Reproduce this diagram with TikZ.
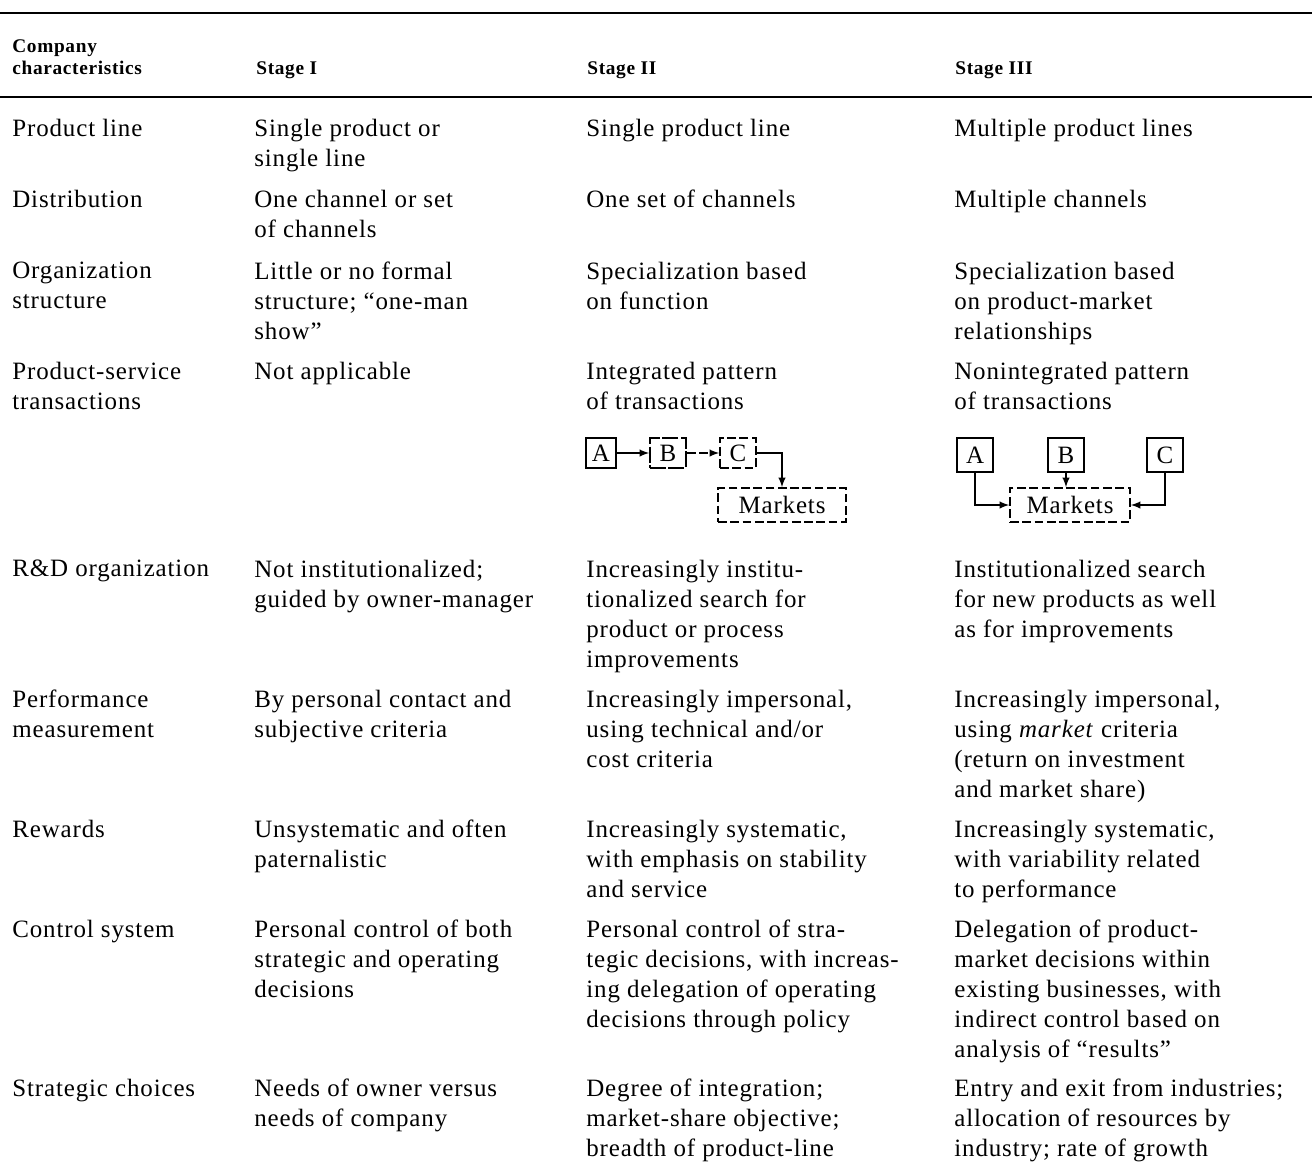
\documentclass[tikz,border=0pt]{standalone}
\usepackage{fontspec}
\setmainfont[LetterSpace=3.5]{Liberation Serif}

\tikzset{
  cell/.style={anchor=north west, inner sep=0pt, align=left, font=\fontsize{14.2}{17.07}\selectfont},
  head/.style={anchor=north west, inner sep=0pt, align=left, font=\fontsize{11}{12.5}\selectfont\bfseries},
  box/.style={draw, line width=0.9pt, inner sep=0pt, minimum width=0.6cm, minimum height=0.6cm, font=\fontsize{14.2}{17}\selectfont},
  dbox/.style={box, dash pattern=on 5pt off 2pt},
  flow/.style={line width=0.9pt, -latex},
}

\begin{document}
\begin{tikzpicture}[x=0.02cm, y=-0.02cm]
		%%%%% FRAME %%%%%
		\useasboundingbox (0,0) rectangle (1312,1171);
		\draw[line width=1.4pt] (0,13) -- (1312,13);
		\draw[line width=1.4pt] (0,97) -- (1312,97);
		
		%%%%% HEADER %%%%%
		\node[head] (hchar) at (12,39) {Company\\characteristics};
		\node[head] (hone) at (256,61) {Stage I};
		\node[head] (htwo) at (587,61) {Stage II};
		\node[head] (hthree) at (955,61) {Stage III};
		
		%%%%% ROWS %%%%%
		\node[cell] (pl) at (12,119) {Product line};
		\node[cell] (pl1) at (254,119) {Single product or\\single line};
		\node[cell] (pl2) at (586,119) {Single product line};
		\node[cell] (pl3) at (954,119) {Multiple product lines};
		
		\node[cell] (di) at (12,190) {Distribution};
		\node[cell] (di1) at (254,190) {One channel or set\\of channels};
		\node[cell] (di2) at (586,190) {One set of channels};
		\node[cell] (di3) at (954,190) {Multiple channels};
		
		\node[cell] (os) at (12,262) {Organization\\structure};
		\node[cell] (os1) at (254,262) {Little or no formal\\structure; “one-man\\show”};
		\node[cell] (os2) at (586,262) {Specialization based\\on function};
		\node[cell] (os3) at (954,262) {Specialization based\\on product-market\\relationships};
		
		\node[cell] (ps) at (12,362) {Product-service\\transactions};
		\node[cell] (ps1) at (254,362) {Not applicable};
		\node[cell] (ps2) at (586,362) {Integrated pattern\\of transactions};
		\node[cell] (ps3) at (954,362) {Nonintegrated pattern\\of transactions};
		
		% integrated pattern
		\node[box] (a2) at (601,453) {A};
		\node[box, minimum width=0.72cm, dash pattern=on 9pt off 1.5pt] (b2) at (668,453) {B};
		\node[dbox, minimum width=0.72cm] (c2) at (738,453) {C};
		\node[dbox, minimum width=2.56cm, minimum height=0.68cm] (m2) at (782,505) {Markets};
		\draw[flow] (a2) -- (b2);
		\draw[flow, dash pattern=on 5pt off 2pt] (b2) -- (c2);
		\draw[flow] (c2.east) -| (m2.north);
		
		% nonintegrated pattern
		\node[box, minimum width=0.72cm, minimum height=0.68cm] (a3) at (975,455) {A};
		\node[box, minimum width=0.72cm, minimum height=0.68cm] (b3) at (1066,455) {B};
		\node[box, minimum width=0.72cm, minimum height=0.68cm] (c3) at (1165,455) {C};
		\node[dbox, minimum width=2.4cm, minimum height=0.68cm] (m3) at (1070,505) {Markets};
		\draw[flow] (a3.south) |- (m3.west);
		\draw[flow] (b3.south) -- (b3.south |- m3.north);
		\draw[flow] (c3.south) |- (m3.east);
		
		\node[cell] (rd) at (12,560) {R\&D organization};
		\node[cell] (rd1) at (254,560) {Not institutionalized;\\guided by owner-manager};
		\node[cell] (rd2) at (586,560) {Increasingly institu-\\tionalized search for\\product or process\\improvements};
		\node[cell] (rd3) at (954,560) {Institutionalized search\\for new products as well\\as for improvements};
		
		\node[cell] (pm) at (12,690) {Performance\\measurement};
		\node[cell] (pm1) at (254,690) {By personal contact and\\subjective criteria};
		\node[cell] (pm2) at (586,690) {Increasingly impersonal,\\using technical and/or\\cost criteria};
		\node[cell] (pm3) at (954,690) {Increasingly impersonal,\\using \textit{market} criteria\\(return on investment\\and market share)};
		
		\node[cell] (rw) at (12,820) {Rewards};
		\node[cell] (rw1) at (254,820) {Unsystematic and often\\paternalistic};
		\node[cell] (rw2) at (586,820) {Increasingly systematic,\\with emphasis on stability\\and service};
		\node[cell] (rw3) at (954,820) {Increasingly systematic,\\with variability related\\to performance};
		
		\node[cell] (cs) at (12,920) {Control system};
		\node[cell] (cs1) at (254,920) {Personal control of both\\strategic and operating\\decisions};
		\node[cell] (cs2) at (586,920) {Personal control of stra-\\tegic decisions, with increas-\\ing delegation of operating\\decisions through policy};
		\node[cell] (cs3) at (954,920) {Delegation of product-\\market decisions within\\existing businesses, with\\indirect control based on\\analysis of “results”};
		
		\node[cell] (sc) at (12,1079) {Strategic choices};
		\node[cell] (sc1) at (254,1079) {Needs of owner versus\\needs of company};
		\node[cell] (sc2) at (586,1079) {Degree of integration;\\market-share objective;\\breadth of product-line};
		\node[cell] (sc3) at (954,1079) {Entry and exit from industries;\\allocation of resources by\\industry; rate of growth};
		
		%%%%% END %%%%%
\end{tikzpicture}
\end{document}
